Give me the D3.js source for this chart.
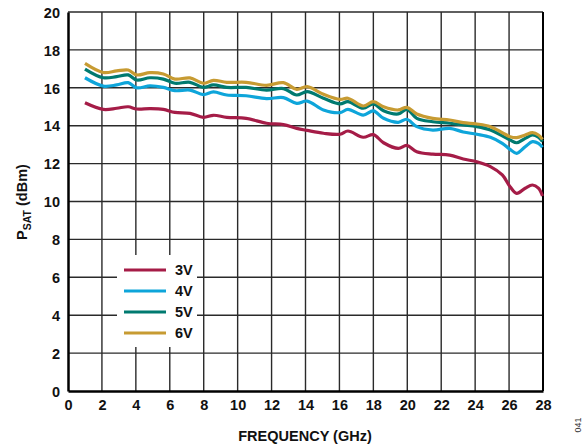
<!DOCTYPE html>
<html><head><meta charset="utf-8">
<script src="https://cdn.jsdelivr.net/npm/d3@7"></script>
<style>body{margin:0;background:#fff}svg{display:block;font-family:"Liberation Sans",Arial,sans-serif}</style>
</head><body><svg id="c" width="586" height="446"></svg>
<script>
const freq = [1.0,2.08,2.87,3.55,4.05,4.83,5.62,6.3,7.19,7.98,8.57,9.36,10.5,11.7,12.7,13.48,14.1,15.06,16.04,16.5,17.4,18.0,18.6,19.47,19.97,20.56,21.5,22.5,23.3,24.1,24.9,25.6,26.06,26.45,26.95,27.38,27.73,27.97];
const v3 = [15.21,14.86,14.92,15.0,14.88,14.9,14.86,14.7,14.65,14.44,14.55,14.44,14.39,14.13,14.06,13.86,13.75,13.6,13.55,13.72,13.39,13.53,13.1,12.8,12.96,12.63,12.5,12.45,12.24,12.1,11.84,11.4,10.78,10.43,10.7,10.87,10.7,10.29];
const v4 = [16.53,16.09,16.15,16.27,16.0,16.1,16.02,15.85,15.88,15.64,15.78,15.62,15.58,15.43,15.48,15.18,15.3,14.83,14.69,14.86,14.56,14.78,14.39,14.18,14.34,13.95,13.77,13.86,13.67,13.55,13.39,13.07,12.75,12.54,12.89,13.16,13.07,12.86];
const v5 = [16.99,16.53,16.59,16.68,16.41,16.53,16.46,16.24,16.29,16.02,16.15,16.02,16.02,15.88,15.96,15.62,15.8,15.45,15.15,15.27,14.92,15.15,14.79,14.62,14.86,14.39,14.21,14.13,14.04,13.95,13.77,13.46,13.25,13.1,13.33,13.51,13.39,13.16];
const v6 = [17.29,16.81,16.89,16.94,16.68,16.8,16.73,16.46,16.52,16.24,16.39,16.29,16.29,16.13,16.27,15.92,16.06,15.66,15.39,15.45,15.04,15.27,15.0,14.83,14.97,14.62,14.39,14.3,14.16,14.09,13.95,13.63,13.42,13.37,13.51,13.63,13.51,13.28];
const seriesNames = ["3V","4V","5V","6V"];
const seriesColors = ["#a51c47","#0ea5da","#007a70","#c79b32"];
const xTicks = d3.range(0,29,2);
const yTicks = d3.range(0,21,2);

const svg = d3.select("#c");
const L=68,R=543,T=12,B=391;
const x = d3.scaleLinear().domain([0,28]).range([L,R]);
const y = d3.scaleLinear().domain([0,20]).range([B,T]);

// grid
svg.append("g").selectAll("line").data(xTicks.slice(1,-1)).join("line")
  .attr("x1",d=>x(d)).attr("x2",d=>x(d)).attr("y1",T).attr("y2",B)
  .attr("stroke","#2a2a2a").attr("stroke-width",1.4);
svg.append("g").selectAll("line").data(yTicks.slice(1)).join("line")
  .attr("x1",L).attr("x2",R).attr("y1",d=>y(d)).attr("y2",d=>y(d))
  .attr("stroke","#2a2a2a").attr("stroke-width",1.4);
svg.append("line").attr("x1",R).attr("x2",R).attr("y1",T).attr("y2",B).attr("stroke","#000").attr("stroke-width",2);

// legend background
svg.append("rect").attr("x",117).attr("y",255).attr("width",80).attr("height",92).attr("fill","#fff");

// axes
const xa = svg.append("g").attr("transform",`translate(0,${B})`).call(d3.axisBottom(x).tickValues(xTicks).tickSize(0).tickPadding(9));
const ya = svg.append("g").attr("transform",`translate(${L},0)`).call(d3.axisLeft(y).tickValues(yTicks).tickSize(0).tickPadding(8));
[xa,ya].forEach(a=>{a.select(".domain").attr("stroke","#000").attr("stroke-width",2.5);
  a.selectAll("text").attr("font-size",14.5).attr("font-weight","bold").attr("fill","#111").attr("font-family","Liberation Sans, Arial, sans-serif");});
ya.selectAll("text").attr("dy","0.36em");

// lines
const allV=[v3,v4,v5,v6];
const line = d3.line().x((d,i)=>x(freq[i])).y(d=>y(d)).curve(d3.curveCatmullRom);
allV.forEach((v,k)=>{
  svg.append("path").datum(v).attr("d",line).attr("fill","none")
    .attr("stroke",seriesColors[k]).attr("stroke-width",3.2).attr("stroke-linejoin","round");
});

// legend
seriesNames.forEach((n,k)=>{
  const yy=270+k*21;
  svg.append("line").attr("x1",124).attr("x2",166).attr("y1",yy).attr("y2",yy)
    .attr("stroke",seriesColors[k]).attr("stroke-width",3.2);
  svg.append("text").attr("x",175).attr("y",yy).attr("dy","0.36em").text(n)
    .attr("font-size",14.5).attr("font-weight","bold").attr("fill","#111");
});

// titles
svg.append("text").attr("x",305).attr("y",441).attr("text-anchor","middle")
  .attr("font-size",14.5).attr("font-weight","bold").attr("fill","#111").text("FREQUENCY (GHz)");
const yt = svg.append("text").attr("transform","translate(27,202) rotate(-90)").attr("text-anchor","middle")
  .attr("font-size",14.5).attr("font-weight","bold").attr("fill","#111");
yt.append("tspan").text("P");
yt.append("tspan").attr("font-size",10.5).attr("dy",4).text("SAT");
yt.append("tspan").attr("dy",-4).text(" (dBm)");
svg.append("text").attr("transform","translate(581,425) rotate(-90)").attr("text-anchor","middle")
  .attr("font-size",9).attr("fill","#333").text("041");
</script></body></html>
